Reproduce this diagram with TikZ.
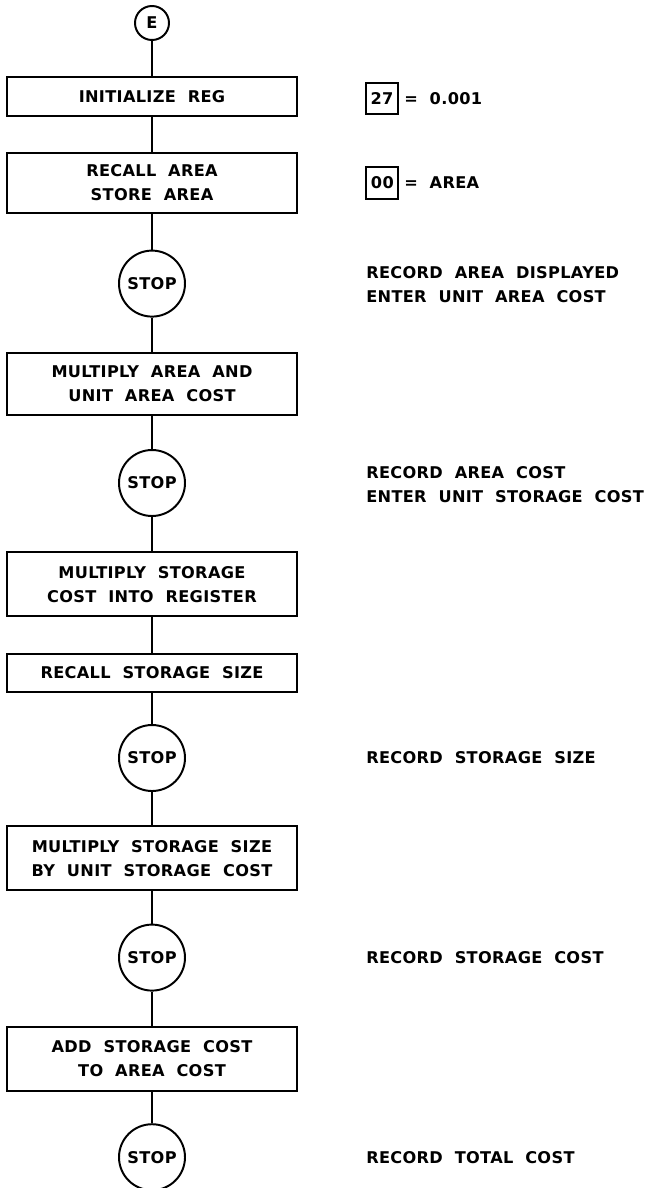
\documentclass[tikz,border=0pt]{standalone}
\usepackage{fontspec}
\setmainfont{DejaVu Sans}[LetterSpace=2, WordSpace=2.0]
\newcommand\slova{\fontsize{11.5}{17}\selectfont\bfseries}
\usetikzlibrary{positioning}
\tikzset{
    blok/.style={draw, line width=1.4pt, minimum width=7.25cm, align=center,
                 inner sep=0pt, font=\slova},
    stopkrug/.style={draw, circle, line width=1.4pt, minimum size=1.65cm,
                 inner sep=0pt, font=\slova},
    veza/.style={line width=1.4pt},
    napomena/.style={anchor=west, align=left, inner sep=0pt, font=\slova},
    reg/.style={draw, line width=1.4pt, minimum width=0.8cm, minimum height=0.78cm,
                 inner sep=0pt, font=\slova}
}

\begin{document}
\begin{tikzpicture}
\useasboundingbox (0,0) rectangle (16.325,-29.7);
%blokovi
    %pocetak
	\node[draw, circle, line width=1.4pt, minimum size=0.85cm, inner sep=0pt,
	      font=\slova] (e) at (3.8,-0.575) {E};
	\node[blok, minimum height=0.975cm] (init) at (3.8,-2.41) {INITIALIZE REG};
	\node[blok, minimum height=1.5cm] (recall) at (3.8,-4.575) {RECALL AREA\\STORE AREA};
	\node[stopkrug] (stop1) at (3.8,-7.09) {STOP};
	\node[blok, minimum height=1.55cm] (mularea) at (3.8,-9.6) {MULTIPLY AREA AND\\UNIT AREA COST};
	\node[stopkrug] (stop2) at (3.8,-12.075) {STOP};

    %skladiste
	\node[blok, minimum height=1.6cm] (mulreg) at (3.8,-14.61) {MULTIPLY STORAGE\\COST INTO REGISTER};
	\node[blok, minimum height=0.95cm] (recsize) at (3.8,-16.825) {RECALL STORAGE SIZE};
	\node[stopkrug] (stop3) at (3.8,-18.95) {STOP};
	\node[blok, minimum height=1.6cm] (mulsize) at (3.8,-21.46) {MULTIPLY STORAGE SIZE\\BY UNIT STORAGE COST};
	\node[stopkrug] (stop4) at (3.8,-23.94) {STOP};
	\node[blok, minimum height=1.6cm] (add) at (3.8,-26.475) {ADD STORAGE COST\\TO AREA COST};
	\node[stopkrug] (stop5) at (3.8,-28.93) {STOP};

%veze
	\draw[veza] (e) -- (init);
	\draw[veza] (init) -- (recall);
	\draw[veza] (recall) -- (stop1);
	\draw[veza] (stop1) -- (mularea);
	\draw[veza] (mularea) -- (stop2);
	\draw[veza] (stop2) -- (mulreg);
	\draw[veza] (mulreg) -- (recsize);
	\draw[veza] (recsize) -- (stop3);
	\draw[veza] (stop3) -- (mulsize);
	\draw[veza] (mulsize) -- (stop4);
	\draw[veza] (stop4) -- (add);
	\draw[veza] (add) -- (stop5);

%registri
	\node[reg] (r27) at (9.55,-2.46) {27};
	\node[napomena] (v27) at (10.1,-2.46) {= 0.001};
	\node[reg] (r00) at (9.56,-4.575) {00};
	\node[napomena] (v00) at (10.1,-4.575) {= AREA};

%napomene
	\node[napomena] (n1) at (9.15,-7.125) {RECORD AREA DISPLAYED\\ENTER UNIT AREA COST};
	\node[napomena] (n2) at (9.15,-12.125) {RECORD AREA COST\\ENTER UNIT STORAGE COST};
	\node[napomena] (n3) at (9.15,-18.95) {RECORD STORAGE SIZE};
	\node[napomena] (n4) at (9.15,-23.94) {RECORD STORAGE COST};
	\node[napomena] (n5) at (9.15,-28.95) {RECORD TOTAL COST};
\end{tikzpicture}
\end{document}
